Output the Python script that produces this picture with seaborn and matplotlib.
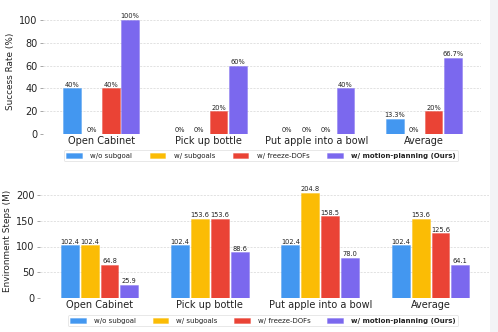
import matplotlib
matplotlib.use("Agg")
import matplotlib.pyplot as plt
import seaborn as sns
import pandas as pd
from matplotlib.patches import Rectangle

categories = ["Open Cabinet", "Pick up bottle", "Put apple into a bowl", "Average"]
methods = ["w/o subgoal", "w/ subgoals", "w/ freeze-DOFs", "w/ motion-planning (Ours)"]
success = {
    "w/o subgoal": [40, 0, 0, 13.3],
    "w/ subgoals": [0, 0, 0, 0],
    "w/ freeze-DOFs": [40, 20, 0, 20],
    "w/ motion-planning (Ours)": [100, 60, 40, 66.7],
}
steps = {
    "w/o subgoal": [102.4, 102.4, 102.4, 102.4],
    "w/ subgoals": [102.4, 153.6, 204.8, 153.6],
    "w/ freeze-DOFs": [64.8, 153.6, 158.5, 125.6],
    "w/ motion-planning (Ours)": [25.9, 88.6, 78.0, 64.1],
}
colors = ["#4397f0", "#fbbc05", "#ea4335", "#7b68ee"]
success_ticks = [0, 20, 40, 60, 80, 100]
steps_ticks = [0, 50, 100, 150, 200]


def long_df(d):
    rows = []
    for m in methods:
        for c, v in zip(categories, d[m]):
            rows.append({"Task": c, "Method": m, "Value": v})
    return pd.DataFrame(rows)


sns.set_style("whitegrid")
plt.rcParams["font.family"] = ["DejaVu Sans"]

W, H = 498, 332
fig = plt.figure(figsize=(W / 100, H / 100), dpi=100)
fig.patch.set_facecolor("white")
fig.add_artist(Rectangle((490 / W, 0), 1 - 490 / W, 1, transform=fig.transFigure,
                         facecolor="#f3f4f6", edgecolor="none", zorder=0))

ax1 = fig.add_axes([43 / W, 1 - 134 / H, 438 / W, (134 - 8.6) / H])
ax2 = fig.add_axes([40 / W, 1 - 298 / H, 449 / W, (298 - 184.7) / H])


def draw(ax, d, ylim, yticks, ylabel, fmt, legend_box):
    df = long_df(d)
    sns.barplot(data=df, x="Task", y="Value", hue="Method", hue_order=methods,
                order=categories, palette=colors, width=0.72, gap=0.1,
                errorbar=None, ax=ax, linewidth=0.5, saturation=1)
    for p in ax.patches:
        fc = p.get_facecolor()
        p.set_edgecolor((fc[0], fc[1], fc[2], 0.5))
    for cont in ax.containers:
        labels = [fmt(b.get_height()) for b in cont]
        ax.bar_label(cont, labels=labels, fontsize=4.8, padding=0.5, color="#222222")
    ax.set_xlim(-0.54, 3.53)
    ax.set_ylim(*ylim)
    ax.set_yticks(yticks)
    ax.set_xlabel("")
    ax.set_ylabel(ylabel, fontsize=6.4, labelpad=3, color="#222222")
    ax.tick_params(axis="y", labelsize=7, left=True, length=2.5, width=0.6,
                   color="#999999", pad=1.5, labelcolor="#222222")
    ax.tick_params(axis="x", labelsize=7, length=0, pad=1.5, labelcolor="#222222")
    ax.grid(axis="y", linestyle=(0, (2.5, 1.5)), color="#dddddd", linewidth=0.6)
    ax.grid(axis="x", visible=False)
    for s in ax.spines.values():
        s.set_visible(False)
    ax.set_facecolor("none")
    handles, labs = ax.get_legend_handles_labels()
    leg = ax.legend(handles, labs, ncol=4, fontsize=5, loc="lower left",
                    bbox_to_anchor=legend_box, bbox_transform=fig.transFigure,
                    mode="expand", borderaxespad=0, frameon=True, fancybox=True,
                    handlelength=2.2, handletextpad=1.2, borderpad=0.35)
    leg.get_frame().set_edgecolor("#dddddd")
    leg.get_frame().set_linewidth(0.6)
    for t in leg.get_texts():
        t.set_color("#222222")
    leg.get_texts()[3].set_fontweight("bold")


draw(ax1, success, (0, 110), success_ticks, "Success Rate (%)",
     lambda v: f"{v:g}%", (64 / W, 1 - 161 / H, 394 / W, 13 / H))
draw(ax2, steps, (0, 220), steps_ticks, "Environment Steps (M)",
     lambda v: f"{v:.1f}", (68 / W, 1 - 326 / H, 390 / W, 13 / H))

fig.savefig("out.png", dpi=100)
